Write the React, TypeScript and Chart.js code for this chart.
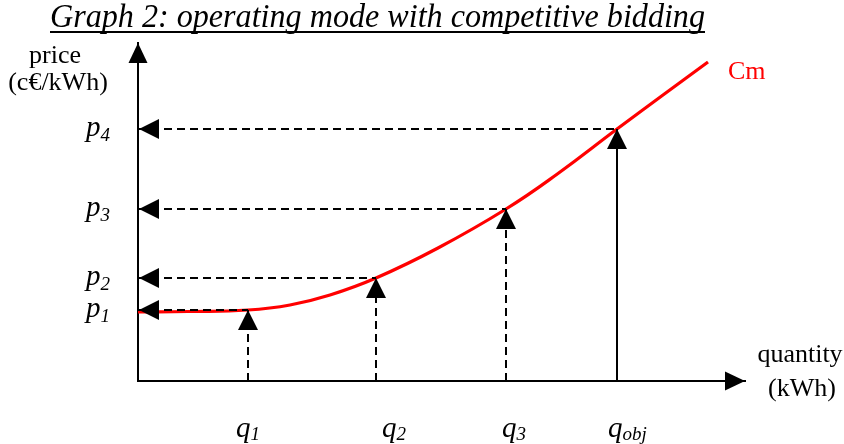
import React, { useEffect, useRef } from "react";
import { Chart, registerables } from "chart.js";

Chart.register(...registerables);

// ---- data (arbitrary units) ----
const TITLE = "Graph 2: operating mode with competitive bidding";
const Y_LABEL = ["price", "(c€/kWh)"];
const X_LABEL = ["quantity", "(kWh)"];
const CURVE_LABEL = "Cm";
const CURVE_X = [0, 5, 11.0, 15.2, 19.2, 23.8, 30.0, 36.8, 42.0, 47.9, 52.5, 57.0];
const CURVE_Y = [6.9, 6.95, 7.1, 7.6, 8.6, 10.3, 13.3, 17.2, 20.75, 25.2, 28.6, 31.9];
const Q_VALUES = [11.0, 23.8, 36.8, 47.9];
const P_VALUES = [7.1, 10.3, 17.2, 25.2];
const Q_NAMES = ["1", "2", "3", "obj"];
const P_NAMES = ["1", "2", "3", "4"];
const X_MAX = 60.7;
const Y_MAX = 33.8;

const SERIF = '"Liberation Serif", "Times New Roman", serif';
const RED = "#ff0000";

function tri(ctx: CanvasRenderingContext2D, tx: number, ty: number, dir: string, len: number, half: number) {
  ctx.beginPath();
  ctx.moveTo(tx, ty);
  if (dir === "up") {
    ctx.lineTo(tx - half, ty + len);
    ctx.lineTo(tx + half, ty + len);
  } else if (dir === "left") {
    ctx.lineTo(tx + len, ty - half);
    ctx.lineTo(tx + len, ty + half);
  } else {
    ctx.lineTo(tx - len, ty - half);
    ctx.lineTo(tx - len, ty + half);
  }
  ctx.closePath();
  ctx.fill();
}

function text(ctx: CanvasRenderingContext2D, s: string, x: number, y: number, font: string, align: CanvasTextAlign = "left", fitW?: number) {
  ctx.font = font;
  ctx.textAlign = align;
  ctx.textBaseline = "alphabetic";
  if (fitW) {
    const w = ctx.measureText(s).width;
    ctx.save();
    ctx.translate(x, y);
    ctx.scale(fitW / w, 1);
    ctx.fillText(s, 0, 0);
    ctx.restore();
  } else {
    ctx.fillText(s, x, y);
  }
}

function subText(ctx: CanvasRenderingContext2D, main: string, sub: string, x: number, y: number, dy: number) {
  ctx.font = `italic 29px ${SERIF}`;
  ctx.textAlign = "left";
  ctx.fillText(main, x, y);
  const w = ctx.measureText(main).width;
  ctx.font = `italic 19px ${SERIF}`;
  ctx.fillText(sub, x + w, y + dy);
}

const overlay = {
  id: "overlay",
  afterDatasetsDraw(chart: any) {
    const { ctx, chartArea: ca, scales } = chart;
    const xs = scales.x;
    const ys = scales.y;
    ctx.save();
    ctx.fillStyle = "#000";
    // axis arrow heads
    tri(ctx, ca.left, ca.top, "up", 20, 9.5);
    tri(ctx, ca.right, ca.bottom, "right", 20, 9.5);
    // guide arrow heads
    P_VALUES.forEach((p, i) => {
      const py = ys.getPixelForValue(p);
      const qx = xs.getPixelForValue(Q_VALUES[i]);
      tri(ctx, ca.left + 1, py, "left", 20, 10);
      tri(ctx, qx, py, "up", 20, 10);
    });
    // title
    ctx.fillStyle = "#000";
    text(ctx, TITLE, 50, 27, `italic 34px ${SERIF}`, "left", 655);
    ctx.fillRect(50, 31, 655, 2);
    // axis labels
    text(ctx, Y_LABEL[0], 55, 63, `26px ${SERIF}`, "center");
    text(ctx, Y_LABEL[1], 58, 90, `26px ${SERIF}`, "center");
    text(ctx, X_LABEL[0], 800, 362, `26px ${SERIF}`, "center");
    text(ctx, X_LABEL[1], 802, 396, `26px ${SERIF}`, "center");
    // p labels
    P_VALUES.forEach((p, i) => {
      const py = ys.getPixelForValue(p);
      subText(ctx, "p", P_NAMES[i], 86, py + 7, 5);
    });
    // q labels
    const qOff = [-12, 6, -4, -9];
    Q_VALUES.forEach((q, i) => {
      const qx = xs.getPixelForValue(q);
      subText(ctx, "q", Q_NAMES[i], qx + qOff[i], 437, 3);
    });
    // curve label
    ctx.fillStyle = RED;
    text(ctx, CURVE_LABEL, 728, 79, `26px ${SERIF}`, "left");
    ctx.restore();
  },
};

export default function App() {
  const ref = useRef<HTMLCanvasElement | null>(null);
  useEffect(() => {
    if (!ref.current) return;
    const dash = [8, 5];
    const datasets: any[] = [];
    P_VALUES.forEach((p, i) => {
      datasets.push({
        data: [{ x: 0, y: p }, { x: Q_VALUES[i], y: p }],
        borderColor: "#000",
        borderWidth: 2,
        borderDash: dash,
        showLine: true,
        pointRadius: 0,
      });
      const solid = i === P_VALUES.length - 1;
      datasets.push({
        data: [{ x: Q_VALUES[i], y: 0 }, { x: Q_VALUES[i], y: p }],
        borderColor: "#000",
        borderWidth: 2,
        borderDash: solid ? [] : dash,
        showLine: true,
        pointRadius: 0,
      });
    });
    datasets.push({
      data: CURVE_X.map((x, i) => ({ x, y: CURVE_Y[i] })),
      borderColor: RED,
      borderWidth: 3.2,
      showLine: true,
      pointRadius: 0,
      tension: 0.45,
    });
    const chart = new Chart(ref.current, {
      type: "scatter",
      data: { datasets },
      plugins: [overlay],
      options: {
        animation: false,
        responsive: false,
        events: [],
        layout: { padding: { left: 138, right: 99, top: 43, bottom: 63 } },
        plugins: { legend: { display: false }, tooltip: { enabled: false }, title: { display: false } },
        scales: {
          x: {
            type: "linear",
            min: 0,
            max: X_MAX,
            grid: { display: false, drawTicks: false },
            ticks: { display: false },
            border: { display: true, color: "#000", width: 2 },
          },
          y: {
            type: "linear",
            min: 0,
            max: Y_MAX,
            grid: { display: false, drawTicks: false },
            ticks: { display: false },
            border: { display: true, color: "#000", width: 2 },
          },
        },
      },
    });
    return () => chart.destroy();
  }, []);
  return (
    <div style={{ position: "fixed", left: 0, top: 0, width: 844, height: 444, background: "#fff" }}>
      <canvas ref={ref} width={844} height={444} style={{ display: "block" }} />
    </div>
  );
}
